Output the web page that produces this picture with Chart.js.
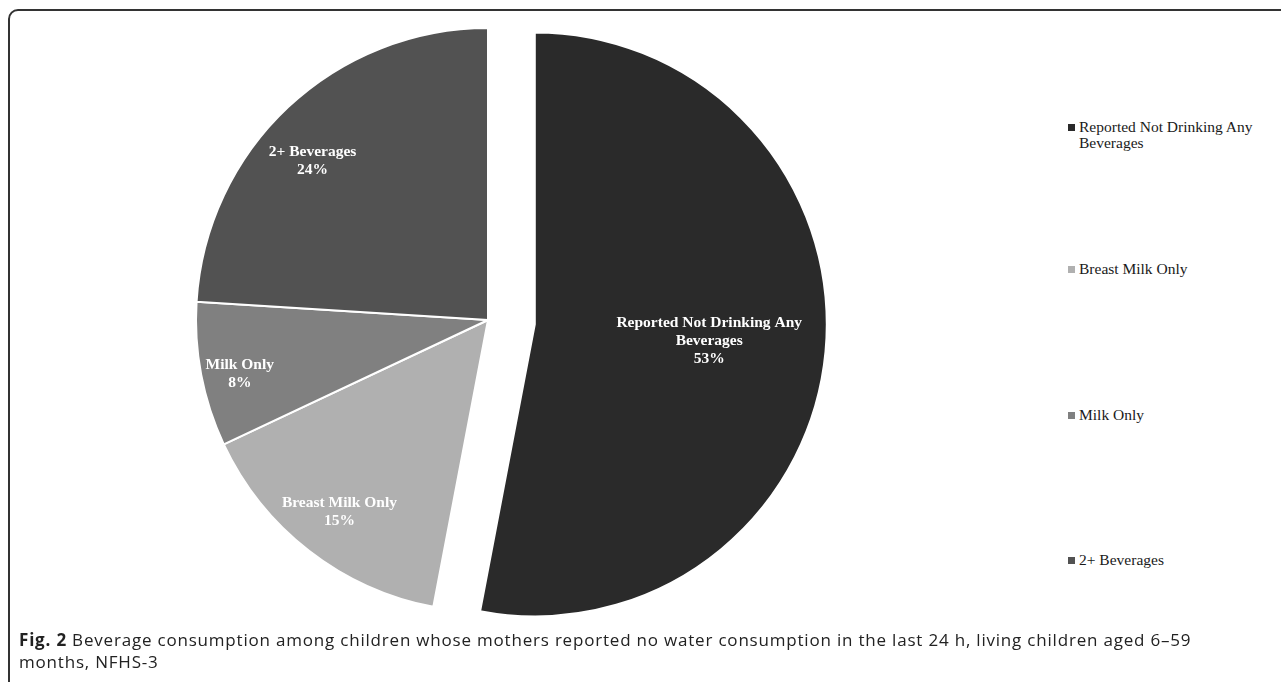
<!DOCTYPE html>
<html>
<head>
<meta charset="utf-8">
<script src="https://cdn.jsdelivr.net/npm/chart.js@4.4.0/dist/chart.umd.min.js"></script>
<style>
body { margin: 0; background: #fff; width: 1281px; height: 682px; overflow: hidden; position: relative; font-family: "Liberation Serif", serif; }
#frame { position: absolute; left: 8px; top: 9px; width: 1400px; height: 800px; border: 2px solid #333; border-top-left-radius: 10px; }
#pie-graph { position: absolute; left: 150px; top: 0; }
.legend-item { position: absolute; left: 1068px; padding-left: 11px; font-size: 15.5px; line-height: 16px; color: #1a1a1a; }
.legend-item .box { position: absolute; left: 0; top: 5px; width: 7px; height: 7px; }
#caption { position: absolute; left: 19px; top: 629px; font-family: "Open Sans", sans-serif; font-size: 17px; letter-spacing: 0.8px; line-height: 22px; color: #222; white-space: nowrap; }
</style>
</head>
<body>
<div id="frame"></div>
<canvas id="pie-graph" width="720" height="640"></canvas>
<div id="legend"></div>
<div id="caption"><b>Fig. 2</b> Beverage consumption among children whose mothers reported no water consumption in the last 24 h, living children aged 6–59<br>months, NFHS-3</div>

<script>
// data
var categoryLines = [
  ['Reported Not Drinking Any', 'Beverages'],
  ['Breast Milk Only'],
  ['Milk Only'],
  ['2+ Beverages']
];
var categories = categoryLines.map(function (l) { return l.join(' '); });
var shares = [53, 15, 8, 24];

// look
var sliceColors = ['#2a2a2a', '#b0b0b0', '#808080', '#525252'];
var slicePush = [47, 0, 0, 0];            // exploded slice, px
var labelDepth = [0.6, 0.83, 0.87, 0.81]; // label distance as part of radius
var labelTurn = [0, 0, -1.5, -4.7];       // small nudges off the bisector, degrees
var legendTops = [119, 261, 407, 552];

// draw slices ourselves so one can be pulled out without resizing it
var explodePlugin = {
  id: 'explode',
  beforeDatasetDraw: function (chart, args) {
    var ctx = chart.ctx;
    args.meta.data.forEach(function (arc, i) {
      var mid = (arc.startAngle + arc.endAngle) / 2;
      ctx.save();
      ctx.translate(Math.cos(mid) * slicePush[i], Math.sin(mid) * slicePush[i]);
      arc.draw(ctx);
      ctx.restore();
    });
    return false;
  }
};

var sliceLabels = {
  id: 'sliceLabels',
  afterDatasetsDraw: function (chart) {
    var ctx = chart.ctx;
    var meta = chart.getDatasetMeta(0);
    ctx.save();
    ctx.font = 'bold 15.5px "Liberation Serif"';
    ctx.fillStyle = '#ffffff';
    ctx.textAlign = 'center';
    ctx.textBaseline = 'middle';
    meta.data.forEach(function (arc, i) {
      var mid = (arc.startAngle + arc.endAngle) / 2;
      var ang = mid + labelTurn[i] * Math.PI / 180;
      var x = arc.x + Math.cos(mid) * slicePush[i] + Math.cos(ang) * arc.outerRadius * labelDepth[i];
      var y = arc.y + Math.sin(mid) * slicePush[i] + Math.sin(ang) * arc.outerRadius * labelDepth[i];
      var lines = categoryLines[i].concat([shares[i] + '%']);
      lines.forEach(function (t, k) {
        ctx.fillText(t, x, y + (k - (lines.length - 1) / 2) * 18);
      });
    });
    ctx.restore();
  }
};

new Chart(document.getElementById('pie-graph'), {
  type: 'pie',
  data: {
    labels: categories,
    datasets: [{
      data: shares,
      backgroundColor: sliceColors,
      borderColor: '#ffffff',
      borderWidth: 2,
      hoverOffset: 0
    }]
  },
  options: {
    responsive: false,
    animation: false,
    layout: { padding: { left: 45, top: 27, right: 89, bottom: 27 } },
    plugins: {
      legend: { display: false },
      tooltip: { enabled: false }
    }
  },
  plugins: [explodePlugin, sliceLabels]
});

// legend
var legend = document.getElementById('legend');
categories.forEach(function (name, i) {
  var item = document.createElement('div');
  item.className = 'legend-item';
  item.style.top = legendTops[i] + 'px';
  item.innerHTML = '<span class="box" style="background:' + sliceColors[i] + '"></span>' + categoryLines[i].join('<br>');
  legend.appendChild(item);
});
</script>
</body>
</html>
